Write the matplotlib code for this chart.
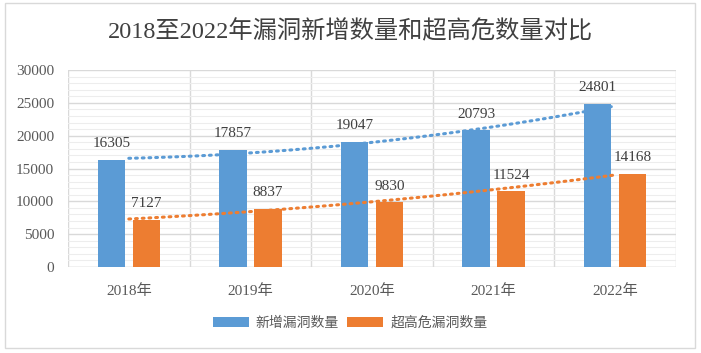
import numpy as np
import matplotlib
matplotlib.use("Agg")
import matplotlib.pyplot as plt
from matplotlib.patches import Rectangle, Patch

years = ["2018年", "2019年", "2020年", "2021年", "2022年"]
new_vulns = [16305, 17857, 19047, 20793, 24801]
high_vulns = [7127, 8837, 9830, 11524, 14168]
series_names = ["新增漏洞数量", "超高危漏洞数量"]
title = "2018至2022年漏洞新增数量和超高危数量对比"

FAM = ["Liberation Serif", "Noto Sans CJK SC", "DejaVu Sans"]
plt.rcParams["font.family"] = FAM

blue = "#5B9BD5"
orange = "#ED7D31"

fig = plt.figure(figsize=(7.01, 3.53), dpi=100)
fig.patch.set_facecolor("white")
fig.patches.append(Rectangle((5/701, 1-348/353), 690/701, 345/353,
                             transform=fig.transFigure, fill=False,
                             edgecolor="#d9d9d9", linewidth=1.0))

ax = fig.add_axes([68/701, 1-267/353, 608/701, 197/353])
x = np.arange(len(years))
off = 0.144
w = 0.225
ax.bar(x - off, new_vulns, w, color=blue, zorder=3)
ax.bar(x + off, high_vulns, w, color=orange, zorder=3)

for xi, v in zip(x, new_vulns):
    ax.annotate(str(v), (xi - off, v), xytext=(0, 7), textcoords="offset points",
                ha="center", va="bottom", fontsize=11, color="#404040", family=FAM)
for xi, v in zip(x, high_vulns):
    ax.annotate(str(v), (xi + off, v), xytext=(0, 7), textcoords="offset points",
                ha="center", va="bottom", fontsize=11, color="#404040", family=FAM)

# polynomial (order 2) trendlines fitted on the data
xs = np.linspace(0, len(years) - 1, 100)
for vals, col in [(new_vulns, blue), (high_vulns, orange)]:
    c = np.polyfit(x, vals, 2)
    ax.plot(xs, np.polyval(c, xs), linestyle=(0, (0.6, 1.6)), dash_capstyle="round",
            color=col, linewidth=2.2, zorder=4)

ax.set_xlim(-0.5, len(years) - 0.5)
ax.set_ylim(0, 30000)
ax.set_yticks(np.arange(0, 30001, 5000))
ax.set_yticks(np.arange(0, 30001, 1000), minor=True)
ax.set_xticks(x)
ax.set_xticklabels(years)
ax.tick_params(axis="y", which="both", length=0, pad=10, labelsize=11, labelcolor="#595959")
ax.tick_params(axis="x", length=0, pad=12, labelsize=11, labelcolor="#595959")
for lab in ax.get_xticklabels() + ax.get_yticklabels():
    lab.set_family(FAM)

ax.grid(axis="y", which="major", color="#d9d9d9", linewidth=1.0, zorder=0)
ax.grid(axis="y", which="minor", color="#ededed", linewidth=0.8, zorder=0)
for b in np.arange(-0.5, len(years), 1.0):
    ax.axvline(b, color="#d9d9d9", linewidth=1.0, zorder=1)
for s in ax.spines.values():
    s.set_visible(False)
ax.axhline(0, color="#d9d9d9", linewidth=1.0, zorder=2)

fig.text(0.5, 1-32/353, title, ha="center", va="center", fontsize=17.5,
         color="#404040", family=FAM)

handles = [Patch(facecolor=blue), Patch(facecolor=orange)]
leg = fig.legend(handles, series_names, loc="center", bbox_to_anchor=(350/701, 1-323/353),
                 ncol=2, frameon=False, fontsize=10, handlelength=2.6, handleheight=0.7,
                 handletextpad=0.5, columnspacing=0.6)
for t in leg.get_texts():
    t.set_color("#595959")
    t.set_family(FAM)

fig.savefig("out.png", dpi=100, facecolor="white")
